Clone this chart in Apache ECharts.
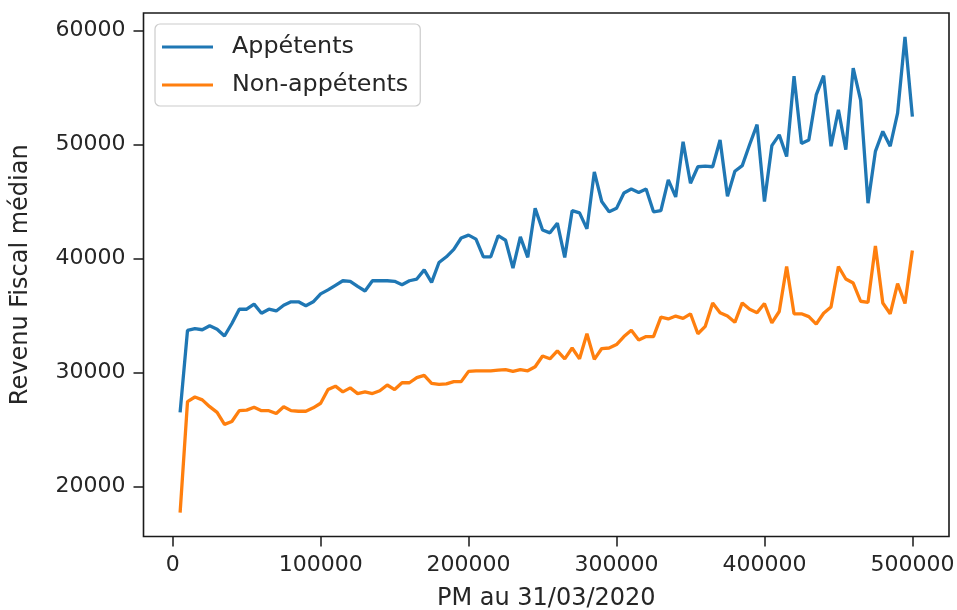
<!DOCTYPE html>
<html>
<head>
<meta charset="utf-8">
<script src="https://cdn.jsdelivr.net/npm/echarts@6/dist/echarts.min.js"></script>
<style>
  html, body { margin: 0; padding: 0; background: #ffffff; }
  #chart { width: 957px; height: 610px; }
</style>
</head>
<body>
<div id="chart"></div>
<script>
// PM au 31/03/2020 (x positions of the points)
const pm = [
  5000, 10000, 15000, 20000, 25000, 30000, 35000, 40000, 45000, 50000,
  55000, 60000, 65000, 70000, 75000, 80000, 85000, 90000, 95000, 100000,
  105000, 110000, 115000, 120000, 125000, 130000, 135000, 140000, 145000, 150000,
  155000, 160000, 165000, 170000, 175000, 180000, 185000, 190000, 195000, 200000,
  205000, 210000, 215000, 220000, 225000, 230000, 235000, 240000, 245000, 250000,
  255000, 260000, 265000, 270000, 275000, 280000, 285000, 290000, 295000, 300000,
  305000, 310000, 315000, 320000, 325000, 330000, 335000, 340000, 345000, 350000,
  355000, 360000, 365000, 370000, 375000, 380000, 385000, 390000, 395000, 400000,
  405000, 410000, 415000, 420000, 425000, 430000, 435000, 440000, 445000, 450000,
  455000, 460000, 465000, 470000, 475000, 480000, 485000, 490000, 495000, 500000
];

// Revenu fiscal médian — Appétents
const appetents = [
  26500, 33700, 33850, 33750, 34100, 33800, 33200, 34300, 35550, 35550,
  36000, 35200, 35550, 35400, 35900, 36200, 36200, 35850, 36200, 36900,
  37250, 37650, 38050, 38000, 37550, 37150, 38050, 38050, 38050, 38000,
  37700, 38050, 38200, 39000, 37900, 39650, 40150, 40800, 41800, 42050,
  41700, 40150, 40150, 42000, 41600, 39150, 41900, 40100, 44400, 42500,
  42250, 43100, 40100, 44200, 44000, 42600, 47600, 45000, 44100, 44400,
  45750, 46100, 45800, 46100, 44100, 44200, 46900, 45400, 50250, 46600,
  48050, 48100, 48050, 50400, 45450, 47650, 48150, 50000, 51750, 45000,
  49900, 50850, 48950, 56000, 50100, 50400, 54350, 56050, 49850, 53050,
  49550, 56700, 53900, 44850, 49400, 51150, 49850, 52750, 59450, 52450
];

// Revenu fiscal médian — Non-appétents
const nonAppetents = [
  17700, 27450, 27850, 27600, 27000, 26500, 25450, 25700, 26650, 26700,
  26950, 26650, 26650, 26400, 27000, 26650, 26600, 26600, 26900, 27300,
  28500, 28800, 28300, 28650, 28150, 28300, 28150, 28400, 28900, 28500,
  29100, 29100, 29550, 29750, 29050, 28950, 29000, 29200, 29200, 30100,
  30150, 30150, 30150, 30200, 30250, 30100, 30250, 30150, 30500, 31450,
  31200, 31900, 31200, 32150, 31200, 33400, 31150, 32100, 32150, 32450,
  33150, 33700, 32850, 33150, 33150, 34850, 34700, 34950, 34750, 35150,
  33400, 34050, 36100, 35250, 34950, 34400, 36100, 35550, 35250, 36050,
  34350, 35350, 39300, 35150, 35150, 34900, 34250, 35200, 35750, 39300,
  38200, 37850, 36250, 36150, 41100, 36100, 35150, 37800, 36050, 40700
];

const xTicks = [0, 100000, 200000, 300000, 400000, 500000];
const yTicks = [20000, 30000, 40000, 50000, 60000];

const FONT = 'DejaVu Sans';
const INK = '#262626';

const chart = echarts.init(document.getElementById('chart'), null, { renderer: 'canvas' });

const pairs = (ys) => pm.map((x, i) => [x, ys[i]]);

chart.setOption({
  animation: false,
  backgroundColor: '#ffffff',
  grid: {
    left: 143.5, top: 13, right: 8, bottom: 73.5,
    show: true, borderColor: '#1a1a1a', borderWidth: 1.6,
    outerBoundsMode: 'none'
  },
  legend: {
    orient: 'vertical',
    left: 155, top: 24,
    padding: [10, 12, 8, 7],
    itemWidth: 51, itemHeight: 3.2, itemGap: 12,
    icon: 'rect',
    borderColor: '#cccccc', borderWidth: 1.2, borderRadius: 5,
    backgroundColor: 'rgba(255,255,255,0.8)',
    textStyle: { fontFamily: FONT, fontSize: 23.8, color: INK, lineHeight: 26, padding: [0, 0, 0, 14] },
    data: ['Appétents', 'Non-appétents']
  },
  xAxis: {
    type: 'value',
    min: -19750, max: 524750,
    name: 'PM au 31/03/2020',
    nameLocation: 'middle', nameGap: 50,
    nameTextStyle: { fontFamily: FONT, fontSize: 24, color: INK },
    axisLine: { show: false, onZero: false },
    splitLine: { show: false },
    axisTick: { show: true, length: 10, lineStyle: { color: '#1a1a1a', width: 1.5 }, customValues: xTicks },
    axisLabel: { customValues: xTicks, margin: 18, fontFamily: FONT, fontSize: 22, color: INK, formatter: (v) => String(v) }
  },
  yAxis: {
    type: 'value',
    min: 15610, max: 61540,
    name: 'Revenu Fiscal médian',
    nameLocation: 'middle', nameGap: 111,
    nameTextStyle: { fontFamily: FONT, fontSize: 24, color: INK },
    axisLine: { show: false, onZero: false },
    splitLine: { show: false },
    axisTick: { show: true, length: 10, lineStyle: { color: '#1a1a1a', width: 1.5 }, customValues: yTicks },
    axisLabel: { customValues: yTicks, margin: 18, fontFamily: FONT, fontSize: 22, color: INK, formatter: (v) => String(v) }
  },
  series: [
    {
      name: 'Appétents', type: 'line', data: pairs(appetents),
      showSymbol: false, color: '#1f77b4',
      lineStyle: { width: 3.3, color: '#1f77b4' }
    },
    {
      name: 'Non-appétents', type: 'line', data: pairs(nonAppetents),
      showSymbol: false, color: '#ff7f0e',
      lineStyle: { width: 3.3, color: '#ff7f0e' }
    }
  ]
});
</script>
</body>
</html>
